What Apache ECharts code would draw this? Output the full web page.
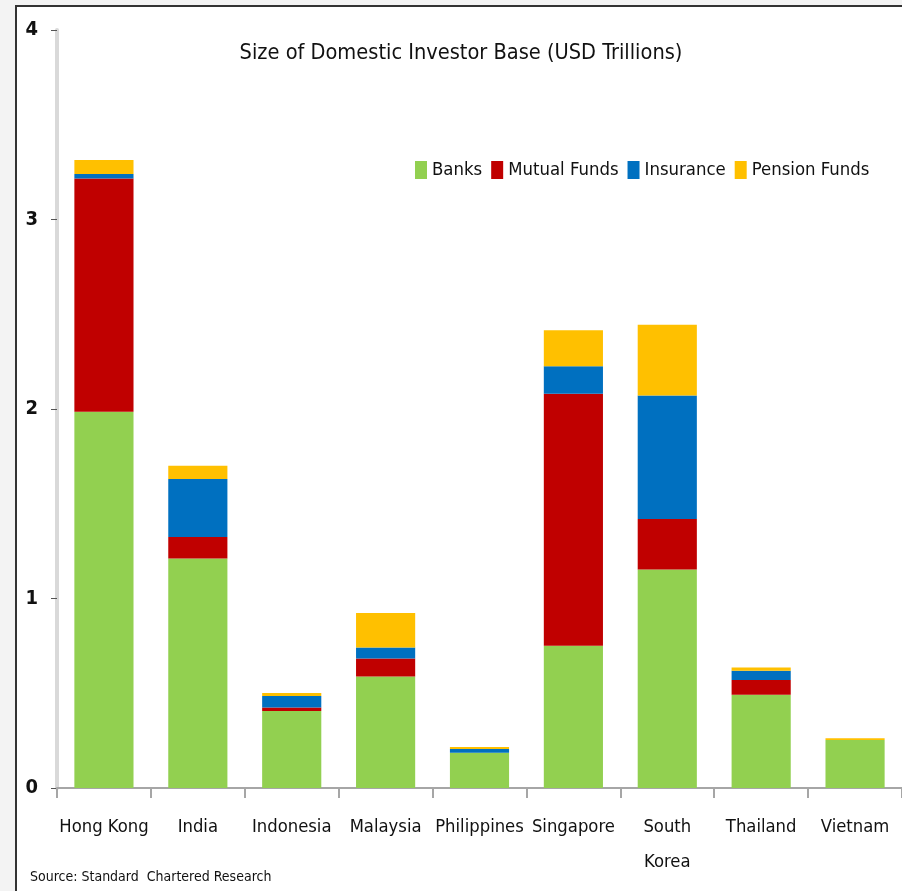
<!DOCTYPE html>
<html>
<head>
<meta charset="utf-8">
<script src="https://cdn.jsdelivr.net/npm/echarts@6/dist/echarts.min.js"></script>
<style>
html,body{margin:0;padding:0;background:#f3f3f3;}
#c{width:902px;height:891px;}
</style>
</head>
<body>
<div id="c"></div>
<script>
const categories = ['Hong Kong','India','Indonesia','Malaysia','Philippines','Singapore','South\nKorea','Thailand','Vietnam'];
const banks       = [1.985, 1.211, 0.406, 0.589, 0.186, 0.751, 1.153, 0.492, 0.253];
const mutualFunds = [1.232, 0.114, 0.019, 0.095, 0.000, 1.329, 0.267, 0.078, 0.000];
const insurance   = [0.023, 0.306, 0.060, 0.058, 0.020, 0.146, 0.651, 0.049, 0.000];
const pension     = [0.074, 0.070, 0.016, 0.181, 0.010, 0.190, 0.374, 0.017, 0.010];
const yTicks = [0, 1, 2, 3, 4];
const seriesNames = ['Banks','Mutual Funds','Insurance','Pension Funds'];
const colors = ['#92D050','#C00000','#0070C0','#FFC000'];
const FONT = "'Liberation Sans Narrow','DejaVu Sans Condensed',sans-serif";

const chart = echarts.init(document.getElementById('c'), null, {renderer:'canvas'});
const data = [banks, mutualFunds, insurance, pension];
chart.setOption({
  animation: false,
  backgroundColor: 'transparent',
  graphic: [{
    type: 'rect', z: -10, silent: true,
    shape: {x: 16, y: 6, width: 900, height: 900},
    style: {fill: '#ffffff', stroke: '#333333', lineWidth: 2}
  }],
  title: {
    text: 'Size of Domestic Investor Base (USD Trillions)',
    left: 456, top: 37, textAlign: 'center',
    textStyle: {fontFamily: FONT, fontSize: 21.6, fontWeight: 'normal', color: '#111111'}
  },
  legend: {
    data: seriesNames,
    left: 410, top: 156, width: 600,
    itemWidth: 12, itemHeight: 18, itemGap: 9,
    icon: 'rect',
    textStyle: {fontFamily: FONT, fontSize: 18.4, color: '#111111'}
  },
  grid: {left: 57, right: -2, top: 30, bottom: 103, containLabel: false},
  xAxis: {
    type: 'category', data: categories,
    axisLine: {lineStyle: {color: '#a6a6a6', width: 2}},
    axisTick: {show: true, length: 10, lineStyle: {color: '#a6a6a6', width: 2}},
    axisLabel: {fontFamily: FONT, fontSize: 18.3, color: '#111111', margin: 22, lineHeight: 35, interval: 0}
  },
  yAxis: {
    type: 'value', min: 0, max: 4, interval: 1,
    splitLine: {show: false},
    axisLine: {show: true, lineStyle: {color: '#d9d9d9', width: 4}},
    axisTick: {show: true, inside: false, length: 6, lineStyle: {color: '#555555', width: 1}},
    axisLabel: {fontFamily: FONT, fontSize: 20, fontWeight: 'bold', color: '#111111', margin: 19,
      formatter: v => yTicks.includes(v) ? String(v) : ''}
  },
  series: seriesNames.map((n, i) => ({
    name: n, type: 'bar', stack: 'total', data: data[i],
    barCategoryGap: '37%',
    itemStyle: {color: colors[i]}
  }))
});
</script>
<div style="position:absolute;left:30px;top:868px;font-family:'Liberation Sans Narrow','DejaVu Sans Condensed',sans-serif;font-size:14px;color:#111111;white-space:pre;">Source: Standard  Chartered Research</div>
</body>
</html>
